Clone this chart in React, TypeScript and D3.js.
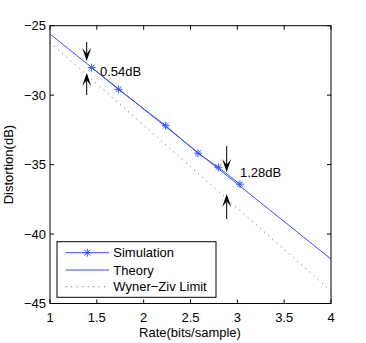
import React from 'react'
import * as d3 from 'd3'

// values
const simRate = [1.445, 1.73, 2.235, 2.58, 2.797, 3.028]
const simDist = [-28.02, -29.58, -32.2, -34.18, -35.19, -36.41]
const theoryRate = [1, 4]
const theoryDist = [-25.6, -41.8]
const wzRate = [1, 4]
const wzDist = [-26.2, -44.1]
const xTicks = [1, 1.5, 2, 2.5, 3, 3.5, 4]
const yTicks = [-25, -30, -35, -40, -45]
const legendLabels = ['Simulation', 'Theory', 'Wyner\u2212Ziv Limit']

const blue = '#3355ff'
const font = 'Liberation Sans, Arial, sans-serif'
const fs = 13

function Star({ cx, cy }: { cx: number; cy: number }) {
  const r = 4
  const d = r * 0.72
  return (
    <g stroke={blue} strokeWidth={1}>
      <line x1={cx - r} y1={cy} x2={cx + r} y2={cy} />
      <line x1={cx} y1={cy - r} x2={cx} y2={cy + r} />
      <line x1={cx - d} y1={cy - d} x2={cx + d} y2={cy + d} />
      <line x1={cx - d} y1={cy + d} x2={cx + d} y2={cy - d} />
    </g>
  )
}

// arrow with head at (x, tipY), tail at tailY
function Arrow({ x, tailY, tipY }: { x: number; tailY: number; tipY: number }) {
  const dir = tipY > tailY ? 1 : -1
  const hl = 13
  const hw = 4.5
  const p = `M${x},${tipY} L${x - hw},${tipY - dir * hl} L${x},${tipY - dir * hl * 0.55} L${x + hw},${tipY - dir * hl} Z`
  return (
    <g>
      <line x1={x} y1={tailY} x2={x} y2={tipY - dir * 6} stroke="black" strokeWidth={1} />
      <path d={p} fill="black" />
    </g>
  )
}

export default function App() {
  const W = 366, H = 343
  const left = 50, right = 331, top = 25.7, bottom = 303.5
  const x = d3.scaleLinear().domain([1, 4]).range([left, right])
  const y = d3.scaleLinear().domain([-45, -25]).range([bottom, top])

  const line = d3.line<[number, number]>().x(d => x(d[0])).y(d => y(d[1]))
  const sim = simRate.map((r, i) => [r, simDist[i]] as [number, number])
  const theory = theoryRate.map((r, i) => [r, theoryDist[i]] as [number, number])
  const wz = wzRate.map((r, i) => [r, wzDist[i]] as [number, number])

  const tl = 4
  const legX = 57, legY = 241.7, legW = 159, legH = 55.6
  const rows = [252.7, 270, 286.7]

  return (
    <svg width={W} height={H} style={{ position: 'absolute', left: 0, top: 0, background: 'white' }} fontFamily={font}>
      <rect x={0} y={0} width={W} height={H} fill="white" />
      <defs>
        <clipPath id="plot">
          <rect x={left} y={top} width={right - left} height={bottom - top} />
        </clipPath>
      </defs>
      <g clipPath="url(#plot)">
        <path d={line(wz) || ''} fill="none" stroke={blue} strokeWidth={1} strokeDasharray="1,4.5" />
        <path d={line(theory) || ''} fill="none" stroke={blue} strokeWidth={1} />
        <path d={line(sim) || ''} fill="none" stroke={blue} strokeWidth={1} />
        {sim.map((d, i) => <Star key={i} cx={x(d[0])} cy={y(d[1])} />)}
      </g>

      {/* box and ticks */}
      <rect x={left} y={top} width={right - left} height={bottom - top} fill="none" stroke="black" strokeWidth={1} />
      {xTicks.map(t => (
        <g key={'x' + t}>
          <line x1={x(t)} x2={x(t)} y1={bottom} y2={bottom - tl} stroke="black" />
          <line x1={x(t)} x2={x(t)} y1={top} y2={top + tl} stroke="black" />
          <text x={x(t)} y={bottom + 18} fontSize={fs} textAnchor="middle">{String(t)}</text>
        </g>
      ))}
      {yTicks.map(t => (
        <g key={'y' + t}>
          <line x1={left} x2={left + tl} y1={y(t)} y2={y(t)} stroke="black" />
          <line x1={right} x2={right - tl} y1={y(t)} y2={y(t)} stroke="black" />
          <text x={left - 4} y={y(t) + 4.5} fontSize={fs} textAnchor="end">{'\u2212' + Math.abs(t)}</text>
        </g>
      ))}

      <text x={190} y={337} fontSize={fs} textAnchor="middle">Rate(bits/sample)</text>
      <text transform={`translate(13,${(top + bottom) / 2}) rotate(-90)`} fontSize={fs} textAnchor="middle">Distortion(dB)</text>

      {/* annotations */}
      <Arrow x={86.7} tailY={42} tipY={61} />
      <Arrow x={86.7} tailY={95} tipY={73} />
      <text x={100} y={76} fontSize={fs}>0.54dB</text>
      <Arrow x={226.7} tailY={146} tipY={172} />
      <Arrow x={226.7} tailY={219} tipY={194} />
      <text x={240} y={177} fontSize={fs}>1.28dB</text>

      {/* legend */}
      <rect x={legX} y={legY} width={legW} height={legH} fill="white" stroke="black" strokeWidth={1} />
      <line x1={65.7} x2={109} y1={rows[0]} y2={rows[0]} stroke={blue} />
      <Star cx={87.3} cy={rows[0]} />
      <line x1={65.7} x2={109} y1={rows[1]} y2={rows[1]} stroke={blue} />
      <line x1={65.7} x2={109} y1={rows[2]} y2={rows[2]} stroke={blue} strokeDasharray="1,4.5" />
      {legendLabels.map((l, i) => (
        <text key={l} x={113.3} y={rows[i] + 4.5} fontSize={fs}>{l}</text>
      ))}
    </svg>
  )
}
